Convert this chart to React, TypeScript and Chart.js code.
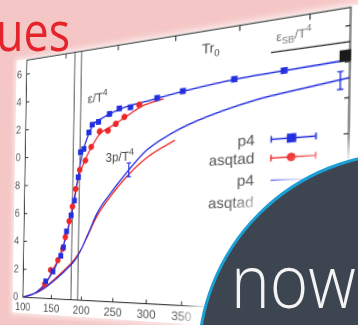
import React, { useEffect, useRef } from "react";
import { Chart, registerables } from "chart.js";
Chart.register(...registerables);

// ---- axes ----
const X_MIN = 100;
const X_MAX = 550;
const Y_MIN = 0;
const Y_MAX = 17;
const xTickValues = [100, 150, 200, 250, 300, 350, 400, 450, 500, 550];
const yTickValues = [0, 2, 4, 6, 8, 10, 12, 14, 16];
const topTickT = [168, 252, 336, 421, 505];
const tcLinesT = [183, 194];

// ---- e/T^4 points ----
const p4EpsT = [140, 152, 165, 169, 174, 181, 186, 192, 195, 200, 208, 213, 223, 240, 255, 272, 311, 347, 415, 476];
const p4EpsV = [1.2, 1.9, 3.0, 3.6, 4.7, 5.8, 6.8, 8.4, 10.1, 10.3, 11.4, 11.9, 12.05, 12.5, 12.8, 12.8, 13.2, 13.45, 13.8, 13.95];
const asqEpsT = [138, 148, 160, 168, 172, 178, 183, 188, 194, 203, 212, 225, 238, 250, 263, 285];
const asqEpsV = [1.0, 2.0, 2.7, 3.5, 4.3, 5.4, 6.4, 7.6, 8.9, 9.5, 10.4, 11.4, 11.4, 11.8, 12.2, 12.9];

// ---- curves ----
const p4EpsCurveT = [100, 120, 140, 160, 175, 185, 192, 198, 205, 215, 230, 260, 300, 350, 420, 480, 550];
const p4EpsCurveV = [0, 0.3, 1.1, 2.6, 4.6, 6.6, 8.6, 10.0, 11.0, 11.9, 12.3, 12.8, 13.1, 13.45, 13.8, 13.95, 14.1];
const asqEpsCurveT = [100, 120, 140, 150, 160, 170, 178, 185, 192, 200, 210, 225, 245, 265, 290, 320];
const asqEpsCurveV = [0, 0.3, 1.0, 1.9, 2.7, 3.9, 5.3, 6.8, 8.3, 9.3, 10.2, 11.2, 11.7, 12.2, 12.8, 13.1];
const p4PCurveT = [100, 130, 158, 180, 190, 200, 212, 223, 240, 271, 297, 330, 367, 441, 500, 550];
const p4PCurveV = [0, 0.5, 1.4, 2.3, 2.8, 3.6, 4.8, 5.9, 7.0, 8.7, 9.9, 10.8, 11.5, 12.4, 12.8, 13.1];
const asqPCurveT = [100, 130, 158, 180, 190, 200, 212, 223, 240, 271, 300, 337];
const asqPCurveV = [0, 0.5, 1.5, 2.4, 2.9, 3.6, 4.7, 5.7, 6.8, 8.4, 9.5, 10.4];

// ---- error bars on 3p/T^4 ----
const errBarT = [271, 540];
const errBarV = [8.7, 13.0];
const errBarE = [0.45, 0.5];

// ---- Stefan-Boltzmann limit ----
const sbLineT = [460, 550];
const sbLineV = 15.1;
const sbMarkT = 545;
const sbMarkV = 14.35;

// ---- legend ----
const legendLabels = ["p4", "asqtad", "p4", "asqtad"];
const legendRowV = [10.0, 8.9, 7.6, 6.3];
const legendTextT = 442;
const legendLineT = [462, 514];
const legendMarkT = 486;

const BLUE = "#2430e0";
const RED = "#ee2828";
const FONT = '"Liberation Sans", Arial, sans-serif';

function toXY(ts: number[], vs: number[]) {
  return ts.map((t, i) => ({ x: t, y: vs[i] }));
}

function homography(src: number[][], dst: number[][]) {
  const A: number[][] = [];
  const b: number[] = [];
  for (let i = 0; i < 4; i++) {
    const [x, y] = src[i];
    const [u, v] = dst[i];
    A.push([x, y, 1, 0, 0, 0, -u * x, -u * y]);
    b.push(u);
    A.push([0, 0, 0, x, y, 1, -v * x, -v * y]);
    b.push(v);
  }
  const n = 8;
  for (let c = 0; c < n; c++) {
    let p = c;
    for (let r = c + 1; r < n; r++) if (Math.abs(A[r][c]) > Math.abs(A[p][c])) p = r;
    [A[c], A[p]] = [A[p], A[c]];
    [b[c], b[p]] = [b[p], b[c]];
    for (let r = 0; r < n; r++) {
      if (r === c) continue;
      const f = A[r][c] / A[c][c];
      for (let k = c; k < n; k++) A[r][k] -= f * A[c][k];
      b[r] -= f * b[c];
    }
  }
  return b.map((v, i) => v / A[i][i]);
}

function richText(ctx: CanvasRenderingContext2D, parts: [string, string][], x: number, y: number, size: number) {
  let cx = x;
  for (const [t, k] of parts) {
    const fs = k === "n" ? size : size * 0.72;
    const dy = k === "sup" ? -size * 0.45 : k === "sub" ? size * 0.28 : 0;
    ctx.font = `${fs}px ${FONT}`;
    ctx.fillText(t, cx, y + dy);
    cx += ctx.measureText(t).width;
  }
}

const decor = {
  id: "decor",
  beforeDatasetsDraw(chart: any) {
    const { ctx, chartArea: a, scales } = chart;
    const x = scales.x;
    ctx.save();
    ctx.strokeStyle = "#6c6c6c";
    ctx.lineWidth = 1.3;
    tcLinesT.forEach((t) => {
      const px = x.getPixelForValue(t);
      ctx.beginPath();
      ctx.moveTo(px, a.top);
      ctx.lineTo(px, a.bottom);
      ctx.stroke();
    });
    ctx.restore();
  },
  afterDatasetsDraw(chart: any) {
    const { ctx, chartArea: a, scales } = chart;
    const x = scales.x;
    const y = scales.y;
    const xp = (t: number) => x.getPixelForValue(t);
    const yp = (v: number) => y.getPixelForValue(v);
    ctx.save();
    // frame
    ctx.strokeStyle = "#333";
    ctx.lineWidth = 1.1;
    ctx.strokeRect(a.left, a.top, a.right - a.left, a.bottom - a.top);
    // inward ticks
    ctx.beginPath();
    yTickValues.forEach((v) => {
      const py = yp(v);
      ctx.moveTo(a.left, py);
      ctx.lineTo(a.left + 4, py);
      ctx.moveTo(a.right, py);
      ctx.lineTo(a.right - 4, py);
    });
    xTickValues.forEach((t) => {
      const px = xp(t);
      ctx.moveTo(px, a.bottom);
      ctx.lineTo(px, a.bottom - 4);
    });
    topTickT.forEach((t) => {
      const px = xp(t);
      ctx.moveTo(px, a.top);
      ctx.lineTo(px, a.top + 5);
    });
    ctx.stroke();

    // error bars on pressure curve
    ctx.strokeStyle = BLUE;
    ctx.lineWidth = 1.2;
    errBarT.forEach((t, i) => {
      const px = xp(t);
      const y1 = yp(errBarV[i] - errBarE[i]);
      const y2 = yp(errBarV[i] + errBarE[i]);
      ctx.beginPath();
      ctx.moveTo(px, y1);
      ctx.lineTo(px, y2);
      ctx.moveTo(px - 2.5, y1);
      ctx.lineTo(px + 2.5, y1);
      ctx.moveTo(px - 2.5, y2);
      ctx.lineTo(px + 2.5, y2);
      ctx.stroke();
    });

    // SB limit
    ctx.strokeStyle = "#222";
    ctx.lineWidth = 1.2;
    ctx.beginPath();
    ctx.moveTo(xp(sbLineT[0]), yp(sbLineV));
    ctx.lineTo(xp(sbLineT[1]), yp(sbLineV));
    ctx.stroke();
    ctx.fillStyle = "#1a1a1a";
    ctx.fillRect(xp(sbMarkT) - 4.5, yp(sbMarkV) - 5, 9, 10);

    // in-plot labels
    ctx.fillStyle = "#444";
    ctx.textBaseline = "alphabetic";
    ctx.textAlign = "left";
    richText(ctx, [["ε/T", "n"], ["4", "sup"]], xp(205), yp(13.4), 13);
    richText(ctx, [["3p/T", "n"], ["4", "sup"]], xp(235), yp(9.3), 13);
    richText(ctx, [["Tr", "n"], ["0", "sub"]], xp(372), yp(15.6), 13);
    ctx.fillStyle = "#777";
    richText(ctx, [["ε", "n"], ["SB", "sub"], ["/T", "n"], ["4", "sup"]], xp(466), yp(15.7), 11);

    // legend
    ctx.font = `14px ${FONT}`;
    ctx.textAlign = "right";
    ctx.textBaseline = "middle";
    legendLabels.forEach((lab, i) => {
      const py = yp(legendRowV[i]);
      ctx.fillStyle = "#555";
      ctx.fillText(lab, xp(legendTextT), py);
      const col = i % 2 === 0 ? BLUE : RED;
      const x1 = xp(legendLineT[0]);
      const x2 = xp(legendLineT[1]);
      ctx.strokeStyle = col;
      ctx.lineWidth = 1.3;
      ctx.beginPath();
      ctx.moveTo(x1, py);
      ctx.lineTo(x2, py);
      if (i < 2) {
        ctx.moveTo(x1, py - 3);
        ctx.lineTo(x1, py + 3);
        ctx.moveTo(x2, py - 3);
        ctx.lineTo(x2, py + 3);
      }
      ctx.stroke();
      ctx.fillStyle = col;
      const mx = xp(legendMarkT);
      if (i === 0) ctx.fillRect(mx - 4, py - 4, 8, 8);
      if (i === 1) {
        ctx.beginPath();
        ctx.arc(mx, py, 3.8, 0, Math.PI * 2);
        ctx.fill();
      }
    });
    ctx.restore();
  },
};

export default function App() {
  const wrapRef = useRef<HTMLDivElement>(null);
  const canvasRef = useRef<HTMLCanvasElement>(null);

  useEffect(() => {
    const canvas = canvasRef.current!;
    const wrap = wrapRef.current!;
    const line = (ts: number[], vs: number[], color: string) => ({
      data: toXY(ts, vs),
      showLine: true,
      borderColor: color,
      borderWidth: 1.4,
      pointRadius: 0,
      cubicInterpolationMode: "monotone" as const,
    });
    const chart = new Chart(canvas, {
      type: "scatter",
      data: {
        datasets: [
          {
            data: toXY(p4EpsT, p4EpsV),
            pointStyle: "rect",
            pointRadius: 4.2,
            backgroundColor: BLUE,
            borderWidth: 0,
          },
          {
            data: toXY(asqEpsT, asqEpsV),
            pointStyle: "circle",
            pointRadius: 3.3,
            backgroundColor: RED,
            borderWidth: 0,
          },
          line(p4EpsCurveT, p4EpsCurveV, BLUE),
          line(asqEpsCurveT, asqEpsCurveV, RED),
          line(p4PCurveT, p4PCurveV, BLUE),
          line(asqPCurveT, asqPCurveV, RED),
        ] as any,
      },
      options: {
        responsive: false,
        animation: false,
        devicePixelRatio: 2,
        layout: { padding: { top: 12, right: 24, left: 6, bottom: 4 } },
        plugins: { legend: { display: false }, tooltip: { enabled: false } },
        scales: {
          x: {
            type: "linear",
            min: X_MIN,
            max: X_MAX,
            grid: { display: false, drawTicks: false },
            border: { display: false },
            ticks: { stepSize: 50, includeBounds: false, color: "#555", padding: 4, font: { size: 12, family: FONT } },
          },
          y: {
            type: "linear",
            min: Y_MIN,
            max: Y_MAX,
            grid: { display: false, drawTicks: false },
            border: { display: false },
            ticks: { stepSize: 2, includeBounds: false, color: "#555", padding: 6, font: { size: 12, family: FONT } },
          },
        },
      },
      plugins: [decor],
    } as any);

    const a = chart.chartArea;
    const offX = a.left - 13.5;
    const offY = a.top - 1;
    canvas.style.left = -offX + "px";
    canvas.style.top = -offY + "px";
    const w = a.right + 30 - offX;
    const h = a.bottom + 18 - offY;
    wrap.style.width = w + "px";
    wrap.style.height = h + "px";
    const src = [
      [a.left - offX, a.top - offY],
      [a.right - offX, a.top - offY],
      [a.right - offX, a.bottom - offY],
      [a.left - offX, a.bottom - offY],
    ];
    const dst = [
      [27, 60],
      [351, 7],
      [346, 314],
      [23, 297],
    ];
    const m = homography(src, dst);
    wrap.style.transform = `matrix3d(${m[0]},${m[3]},0,${m[6]},${m[1]},${m[4]},0,${m[7]},0,0,1,0,${m[2]},${m[5]},0,1)`;
    return () => chart.destroy();
  }, []);

  return (
    <div
      style={{
        position: "fixed",
        left: 0,
        top: 0,
        width: 358,
        height: 325,
        overflow: "hidden",
        background: "#f5c6c6",
      }}
    >
      <div
        ref={wrapRef}
        style={{
          position: "absolute",
          left: 0,
          top: 0,
          overflow: "hidden",
          background: "#fff",
          transformOrigin: "0 0",
          boxShadow: "0 0 6px 2px rgba(255,255,255,0.7)",
        }}
      >
        <canvas ref={canvasRef} width={380} height={300} style={{ position: "absolute", display: "block" }} />
      </div>
      <div
        style={{
          position: "absolute",
          left: -4,
          top: 3,
          fontFamily: '"Open Sans", sans-serif',
          fontSize: 54,
          lineHeight: "54px",
          color: "#e5232a",
          transform: "scaleX(0.83)",
          transformOrigin: "0 0",
          whiteSpace: "nowrap",
        }}
      >
        ues
      </div>
      <div
        style={{
          position: "absolute",
          left: 405 - 208,
          top: 360 - 208,
          width: 416,
          height: 416,
          boxSizing: "border-box",
          borderRadius: "50%",
          background: "#3d4550",
          border: "3px solid #1d9fd6",
          boxShadow: "0 0 20px 13px rgba(255,255,255,0.95)",
        }}
      />
      <div
        style={{
          position: "absolute",
          left: 231,
          top: 243,
          fontFamily: '"Open Sans", sans-serif',
          fontWeight: 300,
          fontSize: 73,
          lineHeight: "73px",
          color: "#f4f4f4",
          transform: "scaleX(0.9)",
          transformOrigin: "0 0",
          whiteSpace: "nowrap",
        }}
      >
        now
      </div>
    </div>
  );
}
